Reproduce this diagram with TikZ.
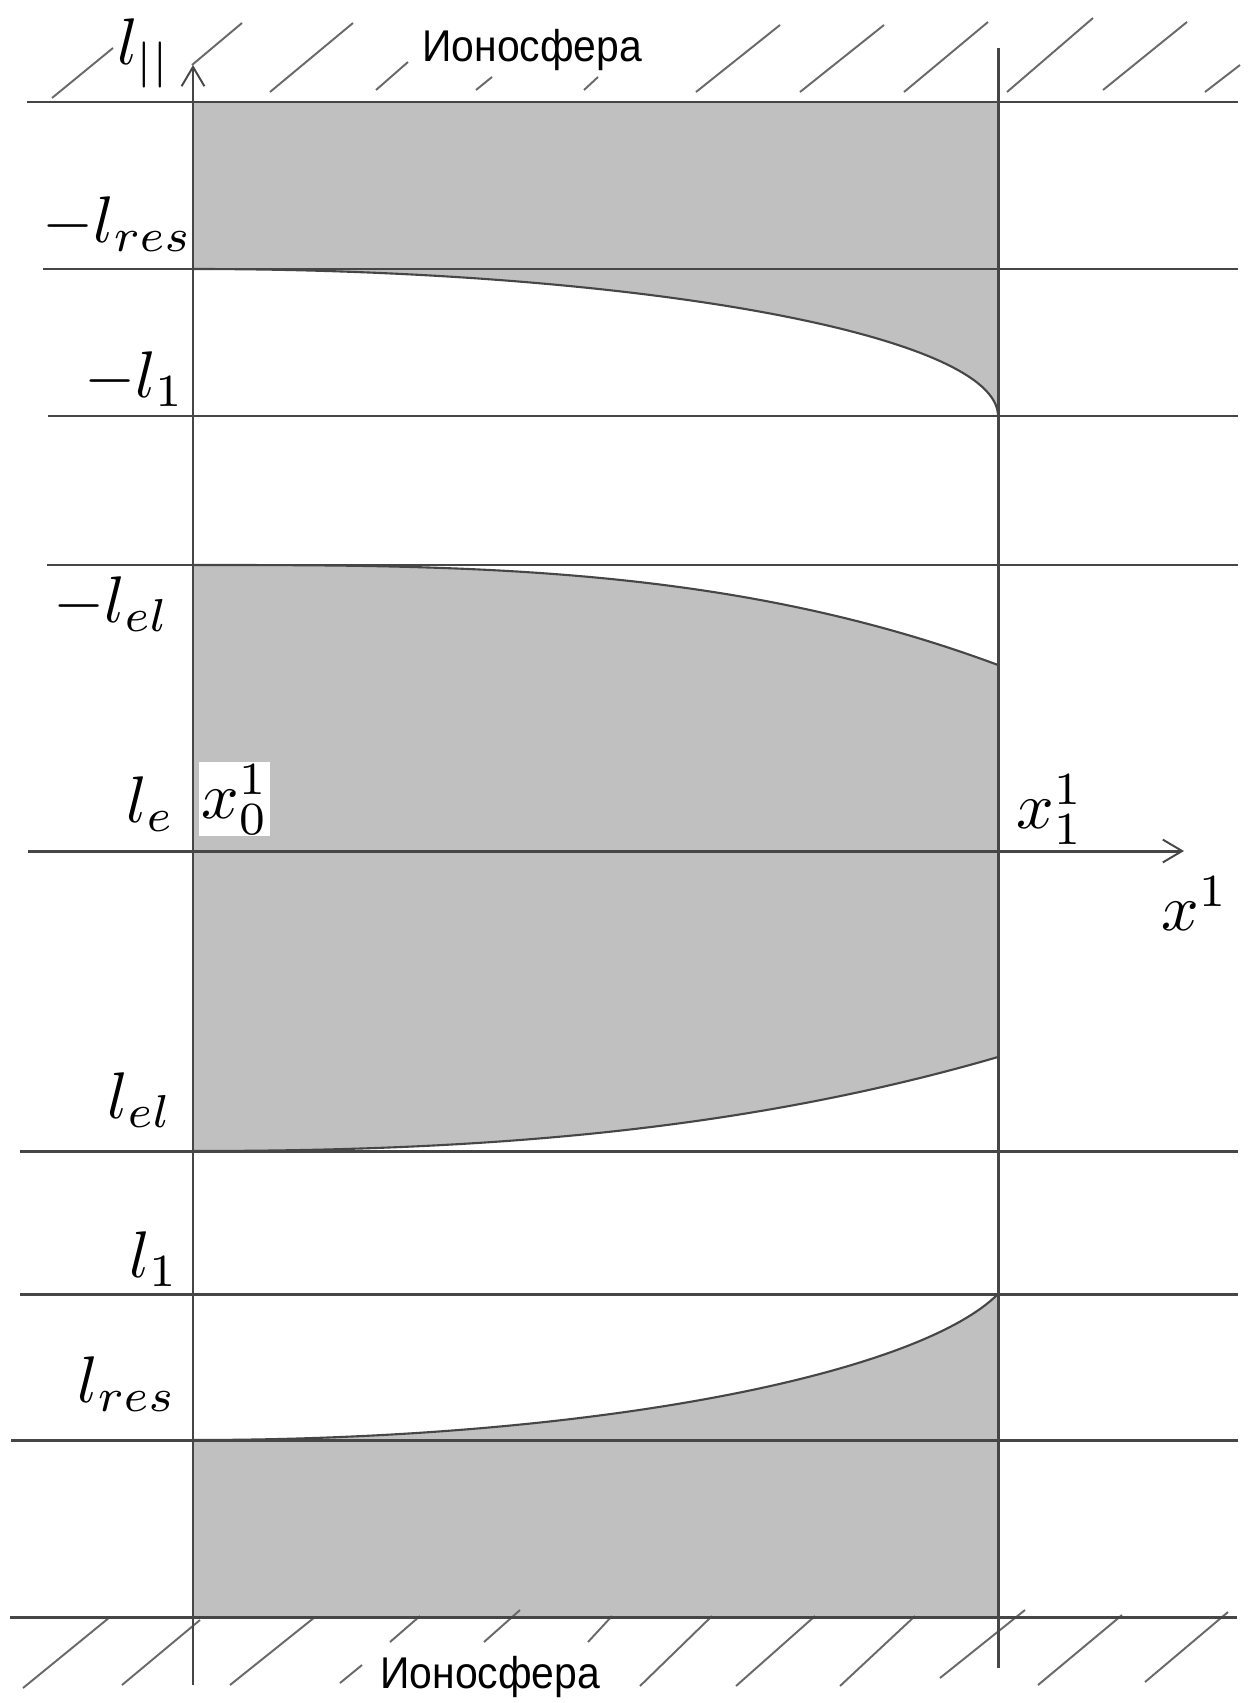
\documentclass[tikz,border=0pt]{standalone}
\usepackage{fontspec}
\newfontfamily\ionfont{Liberation Sans}
\usetikzlibrary{arrows.meta}
\definecolor{axc}{RGB}{70,70,70}
\definecolor{hatc}{RGB}{105,105,105}
\definecolor{fillc}{RGB}{192,192,192}
\begin{document}
\begin{tikzpicture}[x=0.02cm,y=-0.02cm,
  ax/.style={line width=1.7pt, draw=axc},
  crv/.style={line width=1.2pt, draw=axc},
  hatch/.style={line width=1.1pt, draw=hatc},
  tip/.style={-{Straight Barb[length=11pt,width=13pt,line width=1.1pt]}},
  lbl/.style={inner sep=0pt, font=\fontsize{10}{12}\selectfont, scale=3.75},
  ion/.style={inner sep=0pt, font=\ionfont\fontsize{25.3}{28}\selectfont, xscale=0.92}]
\useasboundingbox (0,0) rectangle (1252,1703);
\fill[white] (0,0) rectangle (1252,1703);

% gray regions
\fill[fillc] (193,102) -- (998,102) -- (998,416) .. controls (998,334.8) and (637.6,269) .. (193,269) -- cycle;
\fill[fillc] (193,565) .. controls (461.3,565) and (729.7,565) .. (998,665) -- (998,1057) .. controls (729.7,1135) and (461.3,1151) .. (193,1151) -- cycle;
\fill[fillc] (193,1440) .. controls (595.5,1440) and (917.5,1374.3) .. (998,1294) -- (998,1617) -- (193,1617) -- cycle;

% coordinates of lines
\coordinate (topL) at (27,102);   \coordinate (topR) at (1238,102);
\coordinate (mresL) at (43,269);  \coordinate (mresR) at (1238,269);
\coordinate (moneL) at (48,416);  \coordinate (moneR) at (1238,416);
\coordinate (melL) at (47,565);   \coordinate (melR) at (1238,565);
\coordinate (axL) at (28,851);    \coordinate (axR) at (1184,851);
\coordinate (elL) at (20,1151);   \coordinate (elR) at (1238,1151);
\coordinate (oneL) at (20,1294);  \coordinate (oneR) at (1238,1294);
\coordinate (resL) at (11,1440);  \coordinate (resR) at (1238,1440);
\coordinate (botL) at (10,1617);  \coordinate (botR) at (1237,1617);
\coordinate (vlB) at (193,1685);  \coordinate (vlT) at (193,65);
\coordinate (vrT) at (998,48);    \coordinate (vrB) at (998,1668);

% hatching
\foreach \a/\b/\c/\d in {52/98/113/48, 192/65/242/23, 270/92/353/23, 376/90/408/62,
  476/90/492/77, 584/90/598/77, 696/92/780/25, 800/92/884/25, 904/92/988/22,
  1007/92/1093/18, 1103/90/1187/22, 1205/92/1240/65}
  \draw[hatch] (\a,\b) -- (\c,\d);
\foreach \a/\b/\c/\d in {23/1688/110/1617, 122/1685/200/1620, 230/1685/315/1617,
  340/1683/362/1665, 390/1642/420/1616, 484/1642/520/1610, 588/1642/612/1616,
  640/1686/712/1616, 736/1686/815/1616, 840/1686/915/1616, 940/1678/1025/1610,
  1038/1685/1122/1615, 1145/1682/1228/1612}
  \draw[hatch] (\a,\b) -- (\c,\d);

% lines
\draw[ax] (topL) -- (topR);
\draw[ax] (mresL) -- (mresR);
\draw[ax] (moneL) -- (moneR);
\draw[ax] (melL) -- (melR);
\draw[ax,tip] (axL) -- (axR);
\draw[ax] (elL) -- (elR);
\draw[ax] (oneL) -- (oneR);
\draw[ax] (resL) -- (resR);
\draw[ax] (botL) -- (botR);
\draw[ax,tip] (vlB) -- (vlT);
\draw[ax] (vrT) -- (vrB);

% curves
\draw[crv] (998,416) .. controls (998,334.8) and (637.6,269) .. (193,269);
\draw[crv] (193,565) .. controls (461.3,565) and (729.7,565) .. (998,665);
\draw[crv] (998,1057) .. controls (729.7,1135) and (461.3,1151) .. (193,1151);
\draw[crv] (193,1440) .. controls (595.5,1440) and (917.5,1374.3) .. (998,1294);

% labels
\node[lbl, anchor=base west] (lpar) at (116,65) {$l_{||}$};
\node[ion, anchor=base west] (ionT) at (422,62) {Ионосфера};
\node[ion, anchor=base west] (ionB) at (380,1688) {Ионосфера};
\node[lbl, anchor=base east] (mlres) at (194,242) {$-l_{res}$};
\node[lbl, anchor=base east] (mlone) at (186,397) {$-l_1$};
\node[lbl, anchor=base east] (mlel) at (171,622) {$-l_{el}$};
\node[lbl, anchor=base east] (le) at (176,822) {$l_e$};
\node[lbl, anchor=base west, fill=white, inner sep=0.3pt] (xzero) at (198,818) {$x_0^1$};
\node[lbl, anchor=base west] (xone) at (1015,828) {$x_1^1$};
\node[lbl, anchor=base west] (xax) at (1160,930) {$x^1$};
\node[lbl, anchor=base east] (lel) at (174,1118) {$l_{el}$};
\node[lbl, anchor=base east] (lone) at (180,1277) {$l_1$};
\node[lbl, anchor=base east] (lres) at (178,1402) {$l_{res}$};
\end{tikzpicture}
\end{document}
